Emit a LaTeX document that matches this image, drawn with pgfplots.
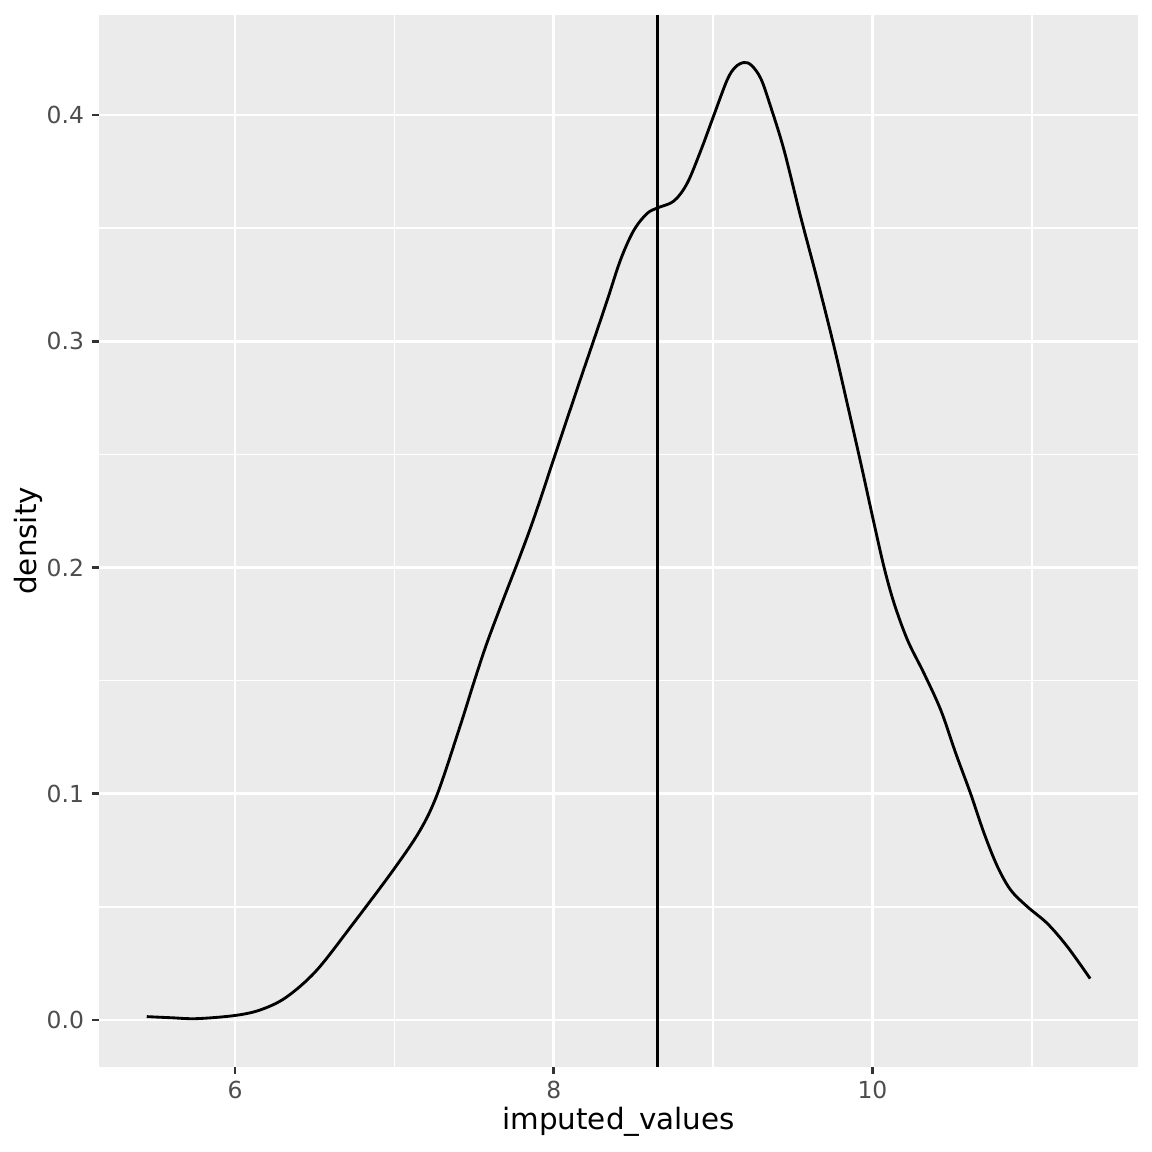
\documentclass[border=0pt]{standalone}
\usepackage{fontspec}
\setmainfont{DejaVu Sans}
\usepackage{pgfplots}
\pgfplotsset{compat=1.18}
\definecolor{panelbg}{HTML}{EBEBEB}
\definecolor{ticklab}{HTML}{4D4D4D}
\definecolor{tickcol}{HTML}{333333}
\pgfplotstableread{
x y
5.446 0.0015
5.600 0.0010
5.760 0.0006
6.000 0.0020
6.160 0.0045
6.320 0.0100
6.510 0.0218
6.740 0.0425
6.990 0.0660
7.160 0.0837
7.270 0.1000
7.410 0.1294
7.500 0.1495
7.580 0.1665
7.684 0.1860
7.780 0.2035
7.874 0.2215
8.000 0.2480
8.147 0.2790
8.251 0.3005
8.335 0.3180
8.419 0.3360
8.502 0.3490
8.586 0.3565
8.653 0.3590
8.754 0.3620
8.837 0.3698
8.921 0.3840
9.000 0.3990
9.088 0.4155
9.140 0.4212
9.193 0.4232
9.240 0.4220
9.300 0.4160
9.361 0.4037
9.445 0.3845
9.549 0.3551
9.654 0.3271
9.759 0.2976
9.843 0.2720
9.927 0.2460
10.005 0.2210
10.073 0.2000
10.136 0.1841
10.220 0.1679
10.324 0.1531
10.429 0.1369
10.523 0.1178
10.617 0.0998
10.701 0.0824
10.785 0.0677
10.868 0.0574
10.973 0.0500
11.098 0.0426
11.224 0.0323
11.366 0.0183
}\densitytable
\begin{document}
\begin{tikzpicture}
\path[use as bounding box] (-43.6pt,-37.46pt) rectangle (462.3pt,468.5pt);
\begin{axis}[
  at={(0,0)}, anchor=south west,
  scale only axis, width=456.2pt, height=461.9pt,
  xmin=5.148, xmax=11.666, ymin=-0.02064, ymax=0.4442,
  axis background/.style={fill=panelbg},
  axis line style={draw=none},
  tick pos=left, tick align=outside,
  major tick length=3.2pt, minor tick length=0pt,
  major tick style={draw=tickcol, line width=1.25pt},
  xtick={6,8,10}, xticklabels={6,8,10},
  ytick={0,0.1,0.2,0.3,0.4}, yticklabels={0.0,0.1,0.2,0.3,0.4},
  minor xtick={7,9,11}, minor ytick={0.05,0.15,0.25,0.35},
  grid=both,
  major grid style={white, line width=1.25pt},
  minor grid style={white, line width=0.62pt},
  tick label style={font=\fontsize{10.3}{12}\selectfont, text=ticklab},
  xticklabel style={anchor=north, inner sep=0pt, yshift=-2.8pt},
  yticklabel style={anchor=east, inner sep=0pt, xshift=-3.3pt},
  label style={font=\fontsize{12.9}{15}\selectfont, text=black},
  xlabel={imputed\_values}, ylabel={density},
  xlabel style={at={(axis description cs:0.5,-0.0526)}, anchor=center},
  ylabel style={at={(axis description cs:-0.0686,0.5)}, anchor=center},
]
\addplot[black, line width=1.25pt, smooth, tension=0.55] table[x=x, y=y] {\densitytable};
\addplot[black, line width=1.25pt] coordinates {(8.652,-0.1) (8.652,0.6)};
\end{axis}
\end{tikzpicture}
\end{document}
